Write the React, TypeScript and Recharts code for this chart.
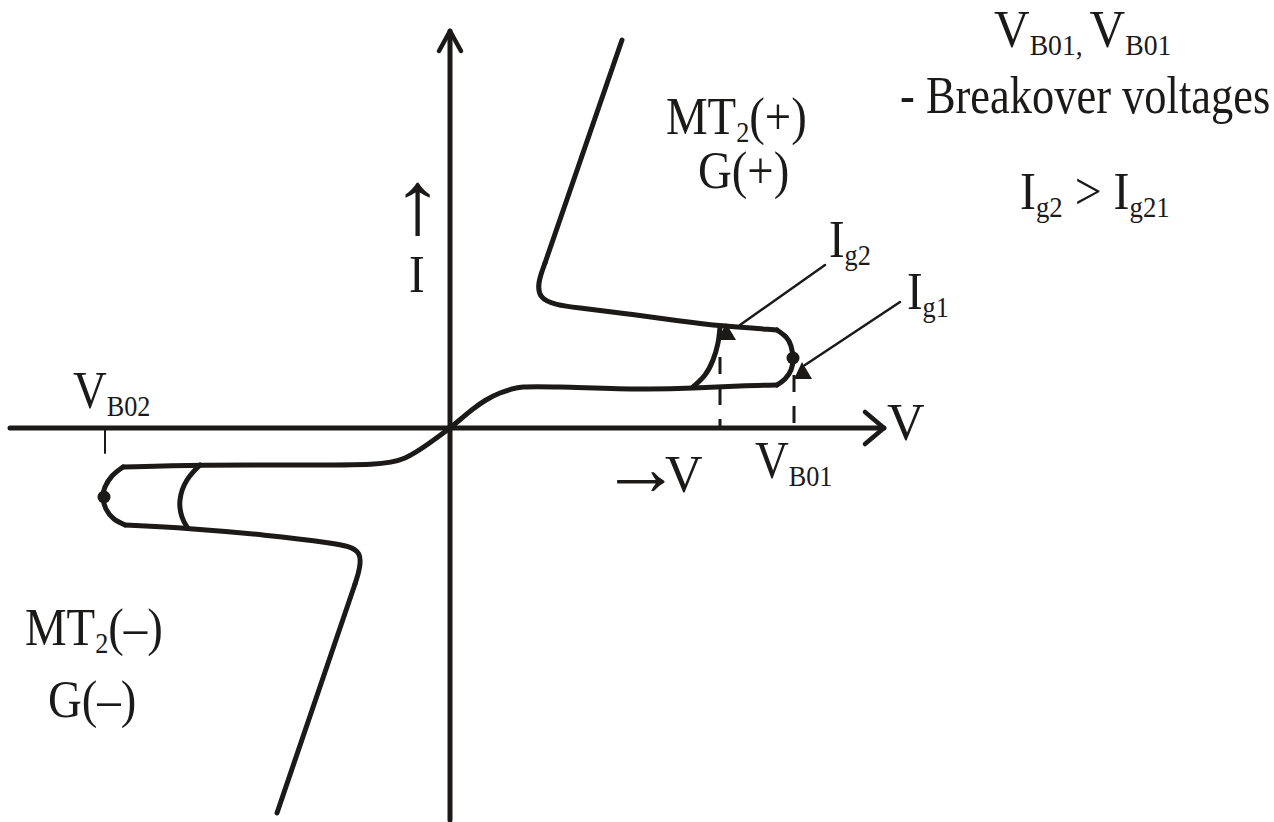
import React from 'react';
import { ComposedChart, Line, Scatter, XAxis, YAxis, ReferenceDot } from 'recharts';

// TRIAC V-I characteristic, v = voltage (right +), i = current (up +)
const INK = '#1c1a19';
const SERIF = "'Liberation Serif', 'Times New Roman', serif";

// first quadrant: MT2(+), G(+)
const forwardBlocking = [
  { v: 0, i: 0 }, { v: 12, i: 10 }, { v: 23, i: 19 }, { v: 36, i: 28 }, { v: 50, i: 35 },
  { v: 62, i: 39 }, { v: 73, i: 41 }, { v: 110, i: 41 }, { v: 190, i: 39 }, { v: 243, i: 40 },
  { v: 290, i: 42 }, { v: 327, i: 43 },
];
const breakoverIg1 = [
  { v: 327, i: 43 }, { v: 335, i: 49 }, { v: 341, i: 58 }, { v: 343, i: 69 },
  { v: 341, i: 82 }, { v: 336, i: 91 }, { v: 327, i: 98 },
];
const breakoverIg2 = [
  { v: 243, i: 41 }, { v: 255, i: 53 }, { v: 263, i: 68 }, { v: 268, i: 85 }, { v: 270, i: 101 },
];
const onStateBend = [
  { v: 327, i: 98 }, { v: 270, i: 102 }, { v: 230, i: 107 }, { v: 180, i: 114 },
  { v: 130, i: 120 }, { v: 81, i: 126 }, { v: 95, i: 165 },
];
const onStateRise = [{ v: 95, i: 165 }, { v: 172, i: 388 }];

// third quadrant: MT2(-), G(-)
const reverseBlocking = [
  { v: 0, i: 0 }, { v: -20, i: -15 }, { v: -45, i: -32 }, { v: -70, i: -37 },
  { v: -150, i: -37 }, { v: -250, i: -37 }, { v: -327, i: -39 },
];
const reverseBreakover = [
  { v: -327, i: -39 }, { v: -338, i: -48 }, { v: -345, i: -59 }, { v: -347, i: -69 },
  { v: -344, i: -81 }, { v: -336, i: -91 }, { v: -325, i: -97 },
];
const reverseInner = [
  { v: -250, i: -37 }, { v: -263, i: -52 }, { v: -270, i: -72 }, { v: -268, i: -89 }, { v: -263, i: -99 },
];
const reverseOnBend = [
  { v: -325, i: -97 }, { v: -263, i: -100 }, { v: -183, i: -107 }, { v: -117, i: -115 },
  { v: -84, i: -121 }, { v: -95, i: -156 },
];
const reverseOnFall = [{ v: -95, i: -156 }, { v: -173, i: -385 }];

// axes, arrows, guides
const vAxis = [{ v: -440, i: 0 }, { v: 434, i: 0 }];
const iAxis = [{ v: 0, i: -392 }, { v: 0, i: 397 }];
const vArrow = [{ v: 415, i: 16 }, { v: 434, i: 0 }, { v: 415, i: -16 }];
const iArrow = [{ v: -11, i: 377 }, { v: 0, i: 397 }, { v: 11, i: 377 }];
const dropIg2 = [{ v: 270, i: 71 }, { v: 270, i: 0 }];
const dropIg1 = [{ v: 344, i: 53 }, { v: 344, i: 0 }];
const tickVB02 = [{ v: -345, i: -2 }, { v: -345, i: -25 }];
const leaderIg2 = [{ v: 290, i: 103 }, { v: 375, i: 163 }];
const leaderIg1 = [{ v: 355, i: 63 }, { v: 450, i: 126 }];

const switchDots = [{ v: 343, i: 70 }, { v: -346, i: -69 }];
const gateMarks = [{ v: 277, i: 95 }, { v: 353, i: 56 }];

type Part = { t: string; sub?: boolean; size?: number; shift?: number; dx?: number };
const SUB_DY = 8;
const BASE = 52;

const Note = ({ cx, cy, parts, sx = 0.9 }: { cx?: number; cy?: number; parts: Part[]; sx?: number }) => {
  let prev = 0;
  return (
    <g transform={`translate(${cx},${cy}) scale(${sx},1)`}>
      <text x={0} y={0} fontFamily={SERIF} fontSize={BASE} fill={INK}>
        {parts.map((p, k) => {
          const shift = p.shift ?? (p.sub ? SUB_DY : 0);
          const dy = shift - prev;
          prev = shift;
          return (
            <tspan key={k} dx={p.dx} dy={dy} fontSize={p.size ?? (p.sub ? BASE * 0.56 : BASE)}>
              {p.t}
            </tspan>
          );
        })}
      </text>
    </g>
  );
};

const notes: { v: number; i: number; parts: Part[]; sx?: number }[] = [
  { v: 544, i: 381, sx: 0.95, parts: [{ t: 'V' }, { t: 'B01', sub: true }, { t: ', ', sub: true }, { t: 'V' }, { t: 'B01', sub: true }] },
  { v: 450, i: 315, sx: 0.855, parts: [{ t: '- Breakover voltages' }] },
  { v: 570, i: 219, sx: 0.92, parts: [{ t: 'I' }, { t: 'g2', sub: true }, { t: ' > I' }, { t: 'g21', sub: true }] },
  { v: 216, i: 294, parts: [{ t: 'MT' }, { t: '2', sub: true }, { t: '(+)' }] },
  { v: 248, i: 240, parts: [{ t: 'G(+)' }] },
  { v: -58, i: 195, sx: 1.15, parts: [{ t: '\u2191', size: 90 }] },
  { v: -41, i: 136, parts: [{ t: 'I' }] },
  { v: 379, i: 171, parts: [{ t: 'I' }, { t: 'g2', sub: true }] },
  { v: 457, i: 119, parts: [{ t: 'I' }, { t: 'g1', sub: true }] },
  { v: -377, i: 20, parts: [{ t: 'V' }, { t: 'B02', sub: true }] },
  { v: 437, i: -12, sx: 1, parts: [{ t: 'V' }] },
  { v: 151, i: -64, sx: 1, parts: [{ t: '\u2192', size: 80, shift: 3 }, { t: 'V', dx: -16 }] },
  { v: 305, i: -50, parts: [{ t: 'V' }, { t: 'B01', sub: true }] },
  { v: -425, i: -217, parts: [{ t: 'MT' }, { t: '2', sub: true }, { t: '(\u2013)' }] },
  { v: -402, i: -289, parts: [{ t: 'G(\u2013)' }] },
];

const curve = (data: { v: number; i: number }[], key: string, opts: any = {}) => (
  <Line
    key={key}
    data={data}
    dataKey="i"
    type={opts.type ?? 'natural'}
    stroke={INK}
    strokeWidth={opts.width ?? 5}
    strokeDasharray={opts.dash}
    strokeLinecap={opts.dash ? 'butt' : 'round'}
    strokeLinejoin="round"
    dot={false}
    activeDot={false}
    legendType="none"
    isAnimationActive={false}
  />
);

export default function App() {
  return (
    <div style={{ position: 'absolute', left: 0, top: 0, width: 1274, height: 822, background: '#fff' }}>
      <ComposedChart width={1274} height={822} margin={{ top: 0, right: 0, bottom: 0, left: 0 }}>
        <XAxis type="number" dataKey="v" domain={[-450, 824]} hide allowDataOverflow />
        <YAxis type="number" dataKey="i" domain={[-394, 428]} hide allowDataOverflow />

        {curve(vAxis, 'vAxis', { type: 'linear', width: 5 })}
        {curve(iAxis, 'iAxis', { type: 'linear', width: 5 })}
        {curve(vArrow, 'vArrow', { type: 'linear', width: 4.5 })}
        {curve(iArrow, 'iArrow', { type: 'linear', width: 4.5 })}

        {curve(forwardBlocking, 'fb')}
        {curve(breakoverIg1, 'bo1')}
        {curve(breakoverIg2, 'bo2')}
        {curve(onStateBend, 'onb', { type: 'basis' })}
        {curve(onStateRise, 'onr', { type: 'linear' })}

        {curve(reverseBlocking, 'rb', { type: 'basis' })}
        {curve(reverseBreakover, 'rbo')}
        {curve(reverseInner, 'rin')}
        {curve(reverseOnBend, 'ronb', { type: 'basis' })}
        {curve(reverseOnFall, 'ronf', { type: 'linear' })}

        {curve(dropIg2, 'd2', { type: 'linear', width: 3, dash: '17 14' })}
        {curve(dropIg1, 'd1', { type: 'linear', width: 3, dash: '17 14' })}
        {curve(tickVB02, 'tick', { type: 'linear', width: 2 })}
        {curve(leaderIg2, 'l2', { type: 'linear', width: 2.5 })}
        {curve(leaderIg1, 'l1', { type: 'linear', width: 2.5 })}

        <Scatter
          data={switchDots}
          isAnimationActive={false}
          legendType="none"
          shape={(p: any) => <circle cx={p.cx} cy={p.cy} r={6.5} fill={INK} />}
        />
        <Scatter
          data={gateMarks}
          isAnimationActive={false}
          legendType="none"
          shape={(p: any) => (
            <polygon
              points={`${p.cx - 1},${p.cy - 10} ${p.cx - 9},${p.cy + 7} ${p.cx + 9},${p.cy + 7}`}
              fill={INK}
            />
          )}
        />

        {notes.map((n, k) => (
          <ReferenceDot
            key={`note-${k}`}
            x={n.v}
            y={n.i}
            r={0}
            isFront
            shape={(p: any) => <Note cx={p.cx} cy={p.cy} parts={n.parts} sx={n.sx} />}
          />
        ))}
      </ComposedChart>
    </div>
  );
}
